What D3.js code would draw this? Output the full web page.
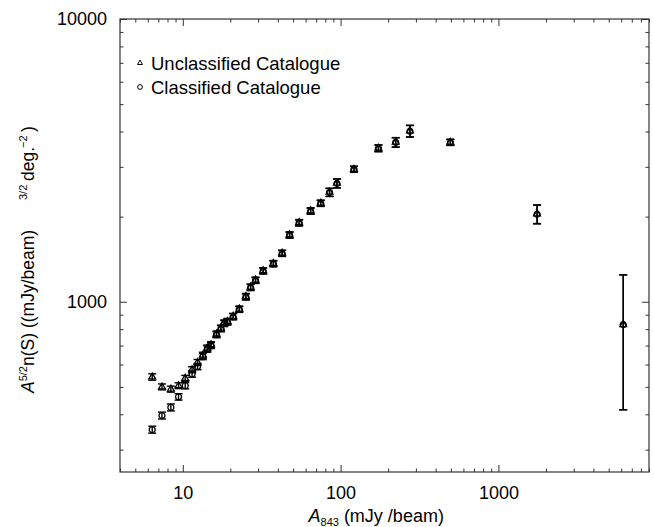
<!DOCTYPE html>
<html>
<head>
<meta charset="utf-8">
<script src="https://cdn.jsdelivr.net/npm/d3@7"></script>
<style>
body { margin: 0; background: #fff; }
svg text { font-family: "Liberation Sans", Arial, sans-serif; fill: #000; }
</style>
</head>
<body>
<svg id="chart" width="654" height="527"></svg>
<script>
'use strict';

//flux bins, A843 (mJy/beam)
var flux = [6.4, 7.38, 8.4, 9.4, 10.36, 11.45, 12.4, 13.4, 14.3, 15.1, 16.35, 17.45, 18.3, 19.2,
  20.85, 22.8, 25.1, 26.9, 28.9, 32.3, 37.5, 42.6, 47.5, 54.6, 64.6, 74.8, 85.1, 94.8,
  121.5, 173.7, 223.5, 275, 496, 1758, 6180];

//normalised counts, unclassified catalogue
var unclassified = [542, 500, 491, 505, 536, 575, 610, 647, 686, 705, 769, 807, 841, 852,
  888, 942, 1044, 1127, 1193, 1287, 1366, 1486, 1725, 1906, 2097, 2233, 2441, 2627,
  2944, 3493, 3667, 4020, 3667, 2046, 830];
var unclassifiedErr = [14, 12, 12, 12, 13, 14, 15, 16, 17, 17, 19, 20, 21, 21,
  22, 23, 26, 28, 29, 31, 33, 36, 42, 47, 52, 55, 80, 95,
  72, 95, 140, 190, 90, 155, 415];

//normalised counts, classified catalogue
var classified = [353, 396, 423, 461, 505, 555, 590, 640, 680, 700, 765, 803, 838, 848,
  885, 940, 1040, 1123, 1190, 1285, 1362, 1482, 1720, 1900, 2092, 2228, 2436, 2620,
  2940, 3488, 3660, 4010, 3660, 2040, 830];
var classifiedErr = [10, 11, 12, 12, 13, 14, 15, 16, 17, 17, 19, 20, 21, 21,
  22, 23, 26, 28, 29, 31, 33, 36, 42, 47, 52, 55, 80, 95,
  72, 95, 140, 190, 90, 155, 415];

var xTickLabels = [10, 100, 1000];
var yTickLabels = [1000, 10000];
var legendLabels = ['Unclassified Catalogue', 'Classified Catalogue'];

var svg = d3.select('#chart');
var plot = {left: 120, right: 649, top: 19, bottom: 472};

var x = d3.scaleLog().domain([4, 9000]).range([plot.left, plot.right]);
var y = d3.scaleLog().domain([250, 10000]).range([plot.bottom, plot.top]);

var frameColor = '#333';

//minor ticks = every log tick that is not labelled
var xMinor = x.ticks().filter(function(d) {return xTickLabels.indexOf(d) < 0});
var yMinor = y.ticks().filter(function(d) {return yTickLabels.indexOf(d) < 0});

function styleAxis(g) {
  g.select('.domain').remove();
  g.selectAll('line').attr('stroke', frameColor);
  g.selectAll('text').attr('font-size', 18).attr('font-family', '"Liberation Sans", Arial, sans-serif');
}

//ticks on all four sides, pointing inwards
svg.append('g').attr('transform', 'translate(0,' + plot.bottom + ')')
  .call(d3.axisBottom(x).tickValues(xMinor).tickSize(-3.5).tickFormat('')).call(styleAxis);
svg.append('g').attr('transform', 'translate(0,' + plot.bottom + ')')
  .call(d3.axisBottom(x).tickValues(xTickLabels).tickSize(-7).tickPadding(14).tickFormat(d3.format('d'))).call(styleAxis);
svg.append('g').attr('transform', 'translate(0,' + plot.top + ')')
  .call(d3.axisTop(x).tickValues(xMinor).tickSize(-3.5).tickFormat('')).call(styleAxis);
svg.append('g').attr('transform', 'translate(0,' + plot.top + ')')
  .call(d3.axisTop(x).tickValues(xTickLabels).tickSize(-7).tickFormat('')).call(styleAxis);

svg.append('g').attr('transform', 'translate(' + plot.left + ',0)')
  .call(d3.axisLeft(y).tickValues(yMinor).tickSize(-3.5).tickFormat('')).call(styleAxis);
svg.append('g').attr('transform', 'translate(' + plot.left + ',0)')
  .call(d3.axisLeft(y).tickValues(yTickLabels).tickSize(-7).tickPadding(13).tickFormat(d3.format('d'))).call(styleAxis);
svg.append('g').attr('transform', 'translate(' + plot.right + ',0)')
  .call(d3.axisRight(y).tickValues(yMinor).tickSize(-3.5).tickFormat('')).call(styleAxis);
svg.append('g').attr('transform', 'translate(' + plot.right + ',0)')
  .call(d3.axisRight(y).tickValues(yTickLabels).tickSize(-7).tickFormat('')).call(styleAxis);

//frame
svg.append('rect')
  .attr('x', plot.left).attr('y', plot.top)
  .attr('width', plot.right - plot.left).attr('height', plot.bottom - plot.top)
  .attr('fill', 'none').attr('stroke', frameColor).attr('stroke-width', 1.2);

//error bars + markers for one series
var triangle = d3.symbol().type(d3.symbolTriangle).size(20);
var circle = d3.symbol().type(d3.symbolCircle).size(28);

function drawSeries(values, errs, shape) {
  var pts = flux.map(function(f, i) {return {x: f, v: values[i], e: errs[i]}});
  var g = svg.append('g');
  var bars = g.selectAll('g.bar').data(pts).enter().append('g')
    .attr('stroke', '#000').attr('stroke-width', 1.4);
  bars.append('line')
    .attr('x1', function(d) {return x(d.x)}).attr('x2', function(d) {return x(d.x)})
    .attr('y1', function(d) {return y(d.v - d.e)}).attr('y2', function(d) {return y(d.v + d.e)});
  bars.append('line')
    .attr('x1', function(d) {return x(d.x) - 4}).attr('x2', function(d) {return x(d.x) + 4})
    .attr('y1', function(d) {return y(d.v + d.e)}).attr('y2', function(d) {return y(d.v + d.e)});
  bars.append('line')
    .attr('x1', function(d) {return x(d.x) - 4}).attr('x2', function(d) {return x(d.x) + 4})
    .attr('y1', function(d) {return y(d.v - d.e)}).attr('y2', function(d) {return y(d.v - d.e)});
  g.selectAll('path').data(pts).enter().append('path')
    .attr('d', shape)
    .attr('transform', function(d) {return 'translate(' + x(d.x) + ',' + y(d.v) + ')'})
    .attr('fill', 'none').attr('stroke', '#000').attr('stroke-width', 1.3);
}

drawSeries(classified, classifiedErr, circle);
drawSeries(unclassified, unclassifiedErr, triangle);

//legend
var legend = svg.append('g');
var legendShapes = [d3.symbol().type(d3.symbolTriangle).size(11), d3.symbol().type(d3.symbolCircle).size(18)];
legendLabels.forEach(function(label, i) {
  legend.append('path')
    .attr('d', legendShapes[i])
    .attr('transform', 'translate(140,' + (63 + i * 24) + ')')
    .attr('fill', 'none').attr('stroke', '#000').attr('stroke-width', 1);
  legend.append('text')
    .attr('x', 151).attr('y', 69.5 + i * 24)
    .attr('font-size', 18.5)
    .text(label);
});

//x axis title
var xt = svg.append('text').attr('x', 308.5).attr('y', 522).attr('font-size', 18);
xt.append('tspan').attr('font-style', 'italic').text('A');
xt.append('tspan').attr('font-size', 11).attr('dy', 4).text('843');
xt.append('tspan').attr('dy', -4).text(' (mJy /beam)');

//y axis title (rotated)
var yt = svg.append('text').attr('transform', 'translate(34,393) rotate(-90)').attr('font-size', 17.5);
yt.append('tspan').attr('font-style', 'italic').text('A');
yt.append('tspan').attr('font-size', 11).attr('dy', -7).text('5/2');
yt.append('tspan').attr('dy', 7).text('n(S) ((mJy/beam)');
yt.append('tspan').attr('font-size', 11).attr('x', 193).attr('dy', -7).text('3/2');
yt.append('tspan').attr('x', 212).attr('dy', 7).text('deg.');
yt.append('tspan').attr('font-size', 11).attr('x', 245).attr('dy', -7).text('\u22122');
yt.append('tspan').attr('x', 261).attr('dy', 7).text(')');
</script>
</body>
</html>
